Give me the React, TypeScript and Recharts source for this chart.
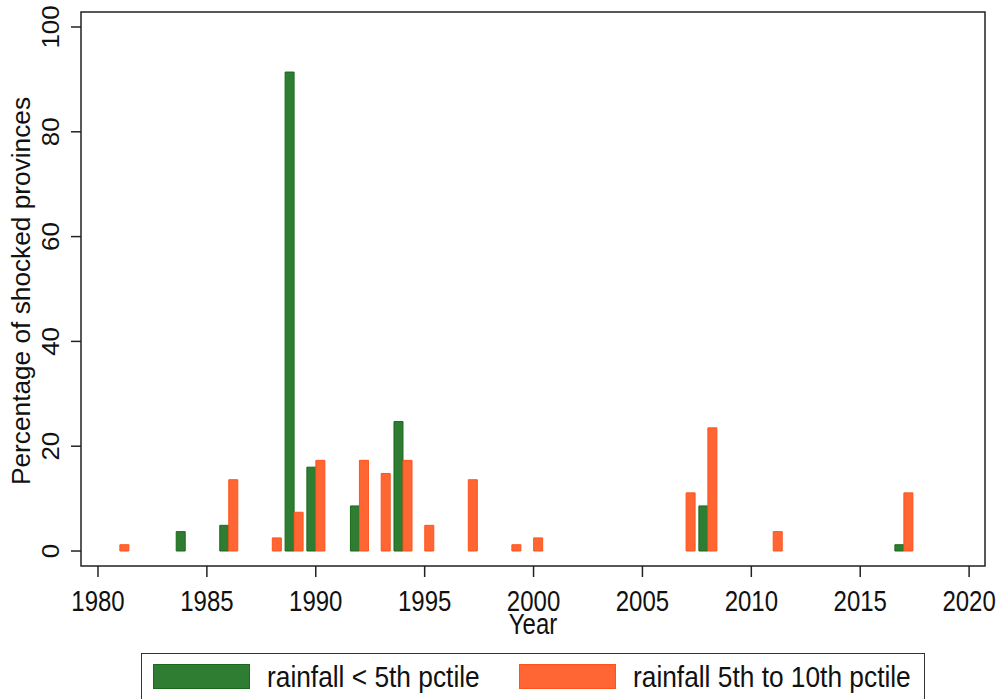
import React from 'react';
import { BarChart, Bar, XAxis, YAxis, ReferenceArea, Legend } from 'recharts';

const years: number[] = [1980,1981,1982,1983,1984,1985,1986,1987,1988,1989,1990,1991,1992,1993,1994,1995,1996,1997,1998,1999,2000,2001,2002,2003,2004,2005,2006,2007,2008,2009,2010,2011,2012,2013,2014,2015,2016,2017,2018,2019,2020];

// rainfall < 5th pctile (percentage of shocked provinces)
const belowFifth: Record<number, number> = {
  1984: 3.7, 1986: 4.9, 1989: 91.4, 1990: 16.0, 1992: 8.6, 1994: 24.7, 2008: 8.6, 2017: 1.2,
};
// rainfall 5th to 10th pctile
const fifthToTenth: Record<number, number> = {
  1981: 1.2, 1986: 13.6, 1988: 2.5, 1989: 7.4, 1990: 17.3, 1992: 17.3, 1993: 14.8, 1994: 17.3,
  1995: 4.9, 1997: 13.6, 1999: 1.2, 2000: 2.5, 2007: 11.1, 2008: 23.5, 2011: 3.7, 2017: 11.1,
};

const xTicks: number[] = [1980, 1985, 1990, 1995, 2000, 2005, 2010, 2015, 2020];
const yTicks: number[] = [0, 20, 40, 60, 80, 100];

const X_DOMAIN: [number, number] = [1979.22, 2020.73];
const Y_DOMAIN: [number, number] = [-2.86, 102.86];

const data = years.map((y) => ({
  year: y,
  low: belowFifth[y] ?? null,
  mid: fifthToTenth[y] ?? null,
}));

const GREEN_FILL = '#2f7d32';
const GREEN_STROKE = '#1b691b';
const ORANGE_FILL = '#ff6633';
const ORANGE_STROKE = '#ff531c';
const FONT = 'Arial, "Liberation Sans", sans-serif';
const STRETCH = 1.2;

const XTick = (props: any) => {
  const { x, payload } = props;
  return (
    <g transform={`translate(${x}, 611) scale(1, ${STRETCH})`}>
      <text x={0} y={0} textAnchor="middle" fontFamily={FONT} fontSize={24} fill="#111">
        {payload.value}
      </text>
    </g>
  );
};

const YTick = (props: any) => {
  const { y, payload } = props;
  const bx = 59;
  return (
    <g transform={`translate(${bx}, ${y}) rotate(-90) scale(1.08, 1)`}>
      <text x={0} y={0} textAnchor="middle" fontFamily={FONT} fontSize={24} fill="#111">
        {payload.value}
      </text>
    </g>
  );
};

const textStyle: React.CSSProperties = {
  position: 'absolute',
  whiteSpace: 'nowrap',
  lineHeight: '30px',
  transform: 'scaleY(1.15)',
  transformOrigin: '0 50%',
};

const LegendContent = () => (
  <div
    style={{
      boxSizing: 'border-box',
      width: 784,
      height: 46,
      borderTop: '1.5px solid #333',
      borderLeft: '1.5px solid #333',
      borderRight: '1.5px solid #333',
      position: 'relative',
      fontFamily: FONT,
      fontSize: 26.3,
      color: '#111',
      background: '#fff',
    }}
  >
    <div style={{ position: 'absolute', left: 11, top: 10, width: 97, height: 25, background: GREEN_FILL, border: `1px solid ${GREEN_STROKE}`, boxSizing: 'border-box' }} />
    <div style={{ ...textStyle, left: 125, top: 8 }}>rainfall &lt; 5th pctile</div>
    <div style={{ position: 'absolute', left: 377, top: 10, width: 97, height: 25, background: ORANGE_FILL, border: `1px solid ${ORANGE_STROKE}`, boxSizing: 'border-box' }} />
    <div style={{ ...textStyle, left: 491, top: 8 }}>rainfall 5th to 10th pctile</div>
  </div>
);

export default function App() {
  return (
    <div style={{ position: 'absolute', left: 0, top: 0, width: 1000, height: 699, background: '#fff' }}>
      <BarChart
        width={1000}
        height={699}
        data={data}
        margin={{ top: 12, right: 15, left: 0, bottom: 0 }}
        barGap={0}
        barSize={9}
      >
        <XAxis
          dataKey="year"
          type="number"
          domain={X_DOMAIN}
          ticks={xTicks}
          allowDataOverflow
          axisLine={false}
          tickLine={{ stroke: '#222', strokeWidth: 1.5 }}
          tickSize={11}
          tick={<XTick />}
          height={87}
          interval={0}
          label={() => (
            <g transform={`translate(533, 634) scale(1, ${STRETCH})`}>
              <text x={0} y={0} textAnchor="middle" fontFamily={FONT} fontSize={24} fill="#111">Year</text>
            </g>
          )}
        />
        <YAxis
          type="number"
          domain={Y_DOMAIN}
          ticks={yTicks}
          allowDataOverflow
          axisLine={false}
          tickLine={{ stroke: '#222', strokeWidth: 1.5 }}
          tickSize={10}
          tick={<YTick />}
          width={81}
          interval={0}
          label={() => (
            <g transform="translate(30, 291) rotate(-90) scale(1.05, 1)">
              <text x={0} y={0} textAnchor="middle" fontFamily={FONT} fontSize={25} fill="#111">
                Percentage of shocked provinces
              </text>
            </g>
          )}
        />
        <ReferenceArea
          x1={X_DOMAIN[0]}
          x2={X_DOMAIN[1]}
          y1={Y_DOMAIN[0]}
          y2={Y_DOMAIN[1]}
          fill="none"
          stroke="#222"
          strokeWidth={1.5}
          ifOverflow="visible"
        />
        <Bar dataKey="low" name="rainfall < 5th pctile" fill={GREEN_FILL} stroke={GREEN_STROKE} strokeWidth={1} isAnimationActive={false} />
        <Bar dataKey="mid" name="rainfall 5th to 10th pctile" fill={ORANGE_FILL} stroke={ORANGE_STROKE} strokeWidth={1} isAnimationActive={false} />
        <Legend
          verticalAlign="bottom"
          content={<LegendContent />}
          wrapperStyle={{ left: 141, bottom: 0, width: 784, height: 46 }}
        />
      </BarChart>
    </div>
  );
}
